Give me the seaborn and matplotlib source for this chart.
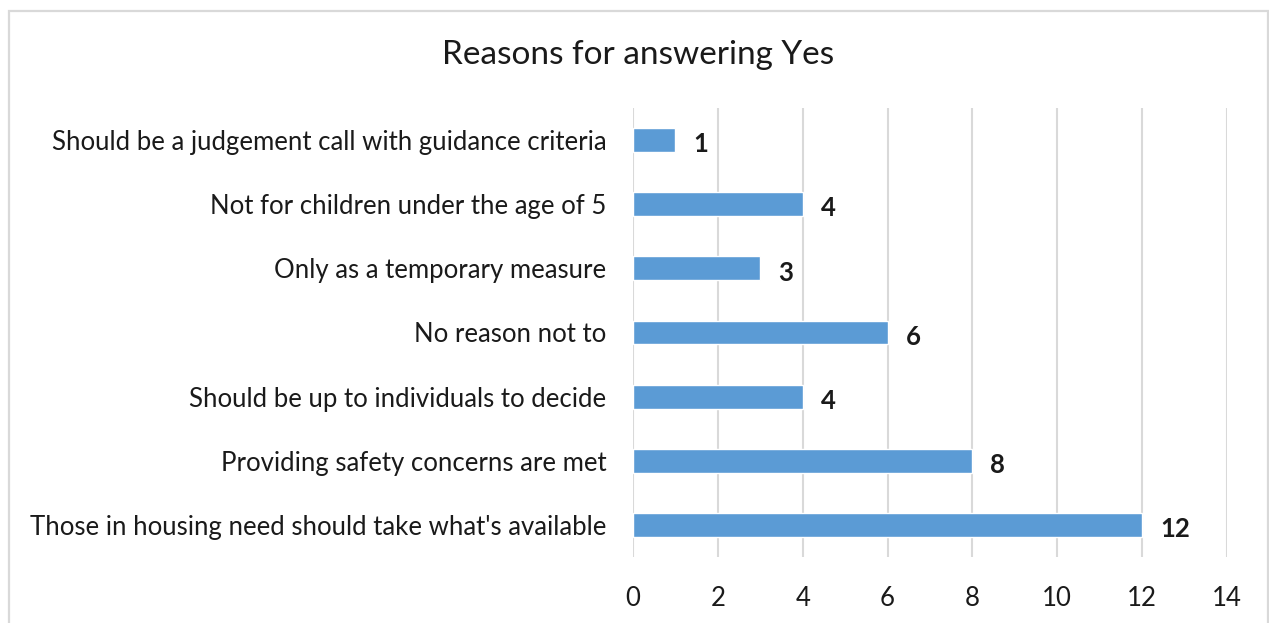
import matplotlib
matplotlib.use("Agg")
import matplotlib.pyplot as plt
import seaborn as sns
import pandas as pd
from matplotlib.patches import Rectangle

# Survey responses: reasons given by those answering "Yes"
reasons = [
    "Should be a judgement call with guidance criteria",
    "Not for children under the age of 5",
    "Only as a temporary measure",
    "No reason not to",
    "Should be up to individuals to decide",
    "Providing safety concerns are met",
    "Those in housing need should take what's available",
]
counts = [1, 4, 3, 6, 4, 8, 12]
x_ticks = [0, 2, 4, 6, 8, 10, 12, 14]

df = pd.DataFrame({"reason": reasons, "count": counts})

sns.set_theme(style="white")
plt.rcParams["font.family"] = ["Lato", "DejaVu Sans"]

fig = plt.figure(figsize=(12.69, 6.23), dpi=100)
ax = fig.add_axes([633 / 1269, 1 - 557 / 623, (1227 - 633) / 1269, (557 - 108) / 623])

sns.barplot(data=df, x="count", y="reason", orient="h", color="#5B9BD5",
            width=0.37, saturation=1, ax=ax)

ax.set_xlim(0, 14)
ax.set_xticks(x_ticks)
ax.set_xticklabels([str(t) for t in x_ticks])
ax.set_xlabel("")
ax.set_ylabel("")
ax.grid(axis="x", color="#D9D9D9", linewidth=1.5)
ax.grid(axis="y", visible=False)
ax.set_axisbelow(True)
for s in ax.spines.values():
    s.set_visible(False)
ax.tick_params(axis="x", length=0, pad=21, labelsize=18.5, labelcolor="#1a1a1a")
ax.tick_params(axis="y", length=0, pad=19, labelsize=18.5, labelcolor="#1a1a1a")

for c in ax.containers:
    texts = ax.bar_label(c, labels=[str(v) for v in counts], padding=13,
                         fontsize=18.5, fontweight="bold", color="#1a1a1a")
    for t in texts:
        t.set_va("center")
        x0, y0 = t.xyann
        t.xyann = (x0, y0 - 3)

fig.text(0.503, 1 - 55 / 623, "Reasons for answering Yes", ha="center", va="center",
         fontsize=24, color="#1a1a1a")

# Chart frame
fig.patches.append(Rectangle((8.5 / 1269, -0.01), (1259 / 1269), (1 - 10.5 / 623) + 0.01,
                             transform=fig.transFigure, fill=False,
                             edgecolor="#D9D9D9", linewidth=1.6))

fig.savefig("out.png", dpi=100)
